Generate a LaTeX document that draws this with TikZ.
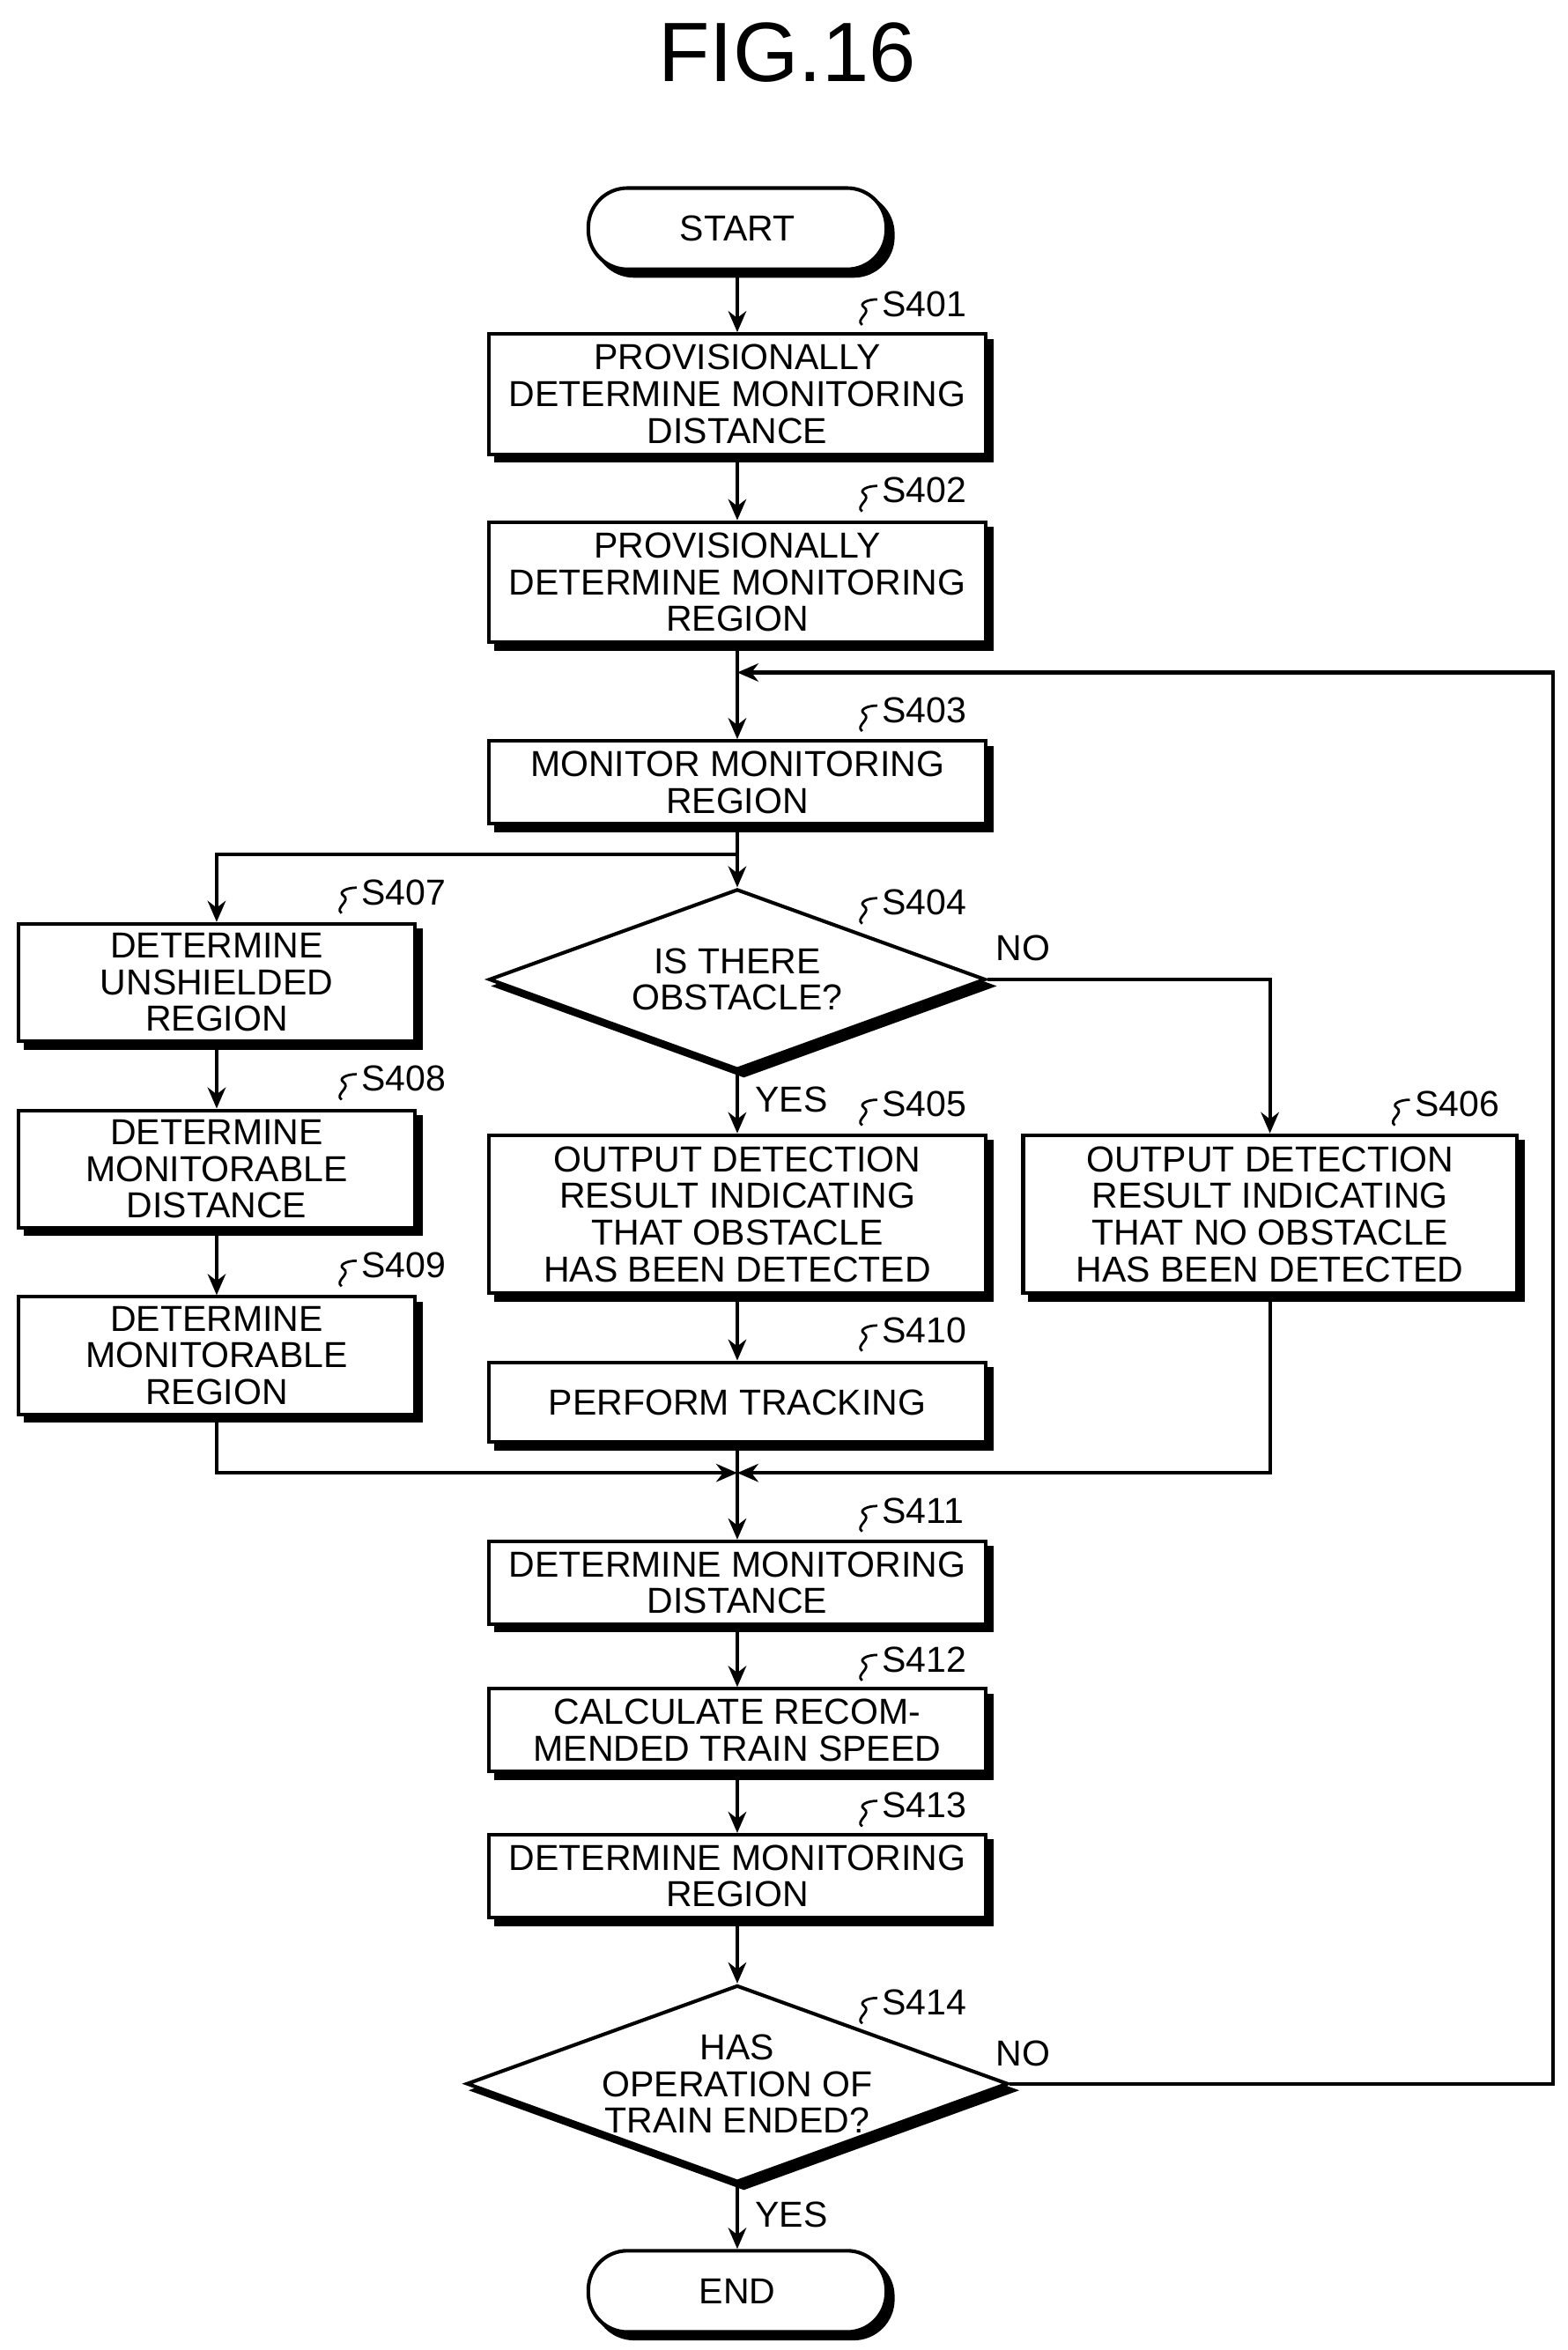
\documentclass[tikz,border=0pt]{standalone}
\usepackage{fontspec}
\setmainfont{Liberation Sans}
\usetikzlibrary{shapes.geometric,arrows.meta}
\begin{document}
\begin{tikzpicture}[x=0.5pt,y=-0.5pt,
  sh/.style={preaction={draw=black,fill=black,line width=1.2pt,transform canvas={shift={(2.2pt,-2.2pt)}}}},
  box/.style={draw,fill=white,line width=1.2pt,sh,align=center,inner sep=0pt,font=\fontsize{12}{12.2}\selectfont},
  term/.style={box,rounded corners=13pt,minimum width=99pt,minimum height=27pt},
  dia/.style={draw,fill=white,line width=1.2pt,sh,diamond,aspect=2.75,inner sep=0pt,align=center,font=\fontsize{12}{12.2}\selectfont},
  ln/.style={line width=1.2pt},
  ar/.style={ln,-{Stealth[length=7pt,width=6pt]}},
  lab/.style={font=\fontsize{12}{12}\selectfont,anchor=west}]
\useasboundingbox (0,0) rectangle (1042,1562);
\node[font=\fontsize{28}{28}\selectfont] (title) at (523,35) {FIG.16};
\node[term] (start) at (490,152) {START};
\node[box,minimum width=165pt,minimum height=40pt] (s401) at (490,262) {PROVISIONALLY\\DETERMINE MONITORING\\DISTANCE};
\node[box,minimum width=165pt,minimum height=40pt] (s402) at (490,387) {PROVISIONALLY\\DETERMINE MONITORING\\REGION};
\node[box,minimum width=165pt,minimum height=27.5pt] (s403) at (490,520) {MONITOR MONITORING\\REGION};
\node[dia,minimum width=165pt,minimum height=60pt] (s404) at (490,651) {IS THERE\\OBSTACLE?};
\node[box,minimum width=131.5pt,minimum height=39pt] (s407) at (144,653) {DETERMINE\\UNSHIELDED\\REGION};
\node[box,minimum width=131.5pt,minimum height=39pt] (s408) at (144,777) {DETERMINE\\MONITORABLE\\DISTANCE};
\node[box,minimum width=131.5pt,minimum height=39pt] (s409) at (144,901) {DETERMINE\\MONITORABLE\\REGION};
\node[box,minimum width=165pt,minimum height=52.5pt] (s405) at (490,807) {OUTPUT DETECTION\\RESULT INDICATING\\THAT OBSTACLE\\HAS BEEN DETECTED};
\node[box,minimum width=164pt,minimum height=52.5pt] (s406) at (844,807) {OUTPUT DETECTION\\RESULT INDICATING\\THAT NO OBSTACLE\\HAS BEEN DETECTED};
\node[box,minimum width=165pt,minimum height=26.5pt] (s410) at (490,932) {PERFORM TRACKING};
\coordinate (j) at (490,979);
\node[box,minimum width=165pt,minimum height=27.5pt] (s411) at (490,1052) {DETERMINE MONITORING\\DISTANCE};
\node[box,minimum width=165pt,minimum height=27.5pt] (s412) at (490,1150) {CALCULATE RECOM-\\MENDED TRAIN SPEED};
\node[box,minimum width=165pt,minimum height=27.5pt] (s413) at (490,1247) {DETERMINE MONITORING\\REGION};
\node[dia,minimum width=165pt,minimum height=65pt] (s414) at (490,1385) {HAS\\OPERATION OF\\TRAIN ENDED?};
\node[term] (end) at (490,1523) {END};
% connectors
\draw[ar] (start) -- (s401);
\draw[ar] (s401) -- (s402);
\draw[ar] (s402) -- (s403);
\draw[ar] (s403) -- (s404);
\coordinate (b1) at (490,568);
\draw[ar] (b1) -| (s407);
\draw[ar] (s407) -- (s408);
\draw[ar] (s408) -- (s409);
\draw[ar] (s404) -- (s405);
\draw[ar] (s404.east) -| (s406);
\draw[ar] (s405) -- (s410);
\draw[ar] (s410) -- (s411);
\draw[ar] (s409.south) |- (j);
\draw[ar] (s406.south) |- (j);
\draw[ar] (s411) -- (s412);
\draw[ar] (s412) -- (s413);
\draw[ar] (s413) -- (s414);
\draw[ar] (s414) -- (end);
\coordinate (lp) at (490,447);
\draw[ar] (s414.east) -| (1032,447) -- (lp);
% labels
\node[lab] at (655,630) {NO};
\node[lab] at (655,1365) {NO};
\node[lab] at (495,731) {YES};
\node[lab] at (495,1472) {YES};
\foreach \x/\y/\t in {490/202/S401,490/326/S402,490/472/S403,490/600/S404,490/734/S405,844/734/S406,144/593/S407,144/717/S408,144/841/S409,490/884/S410,490/1004/S411,490/1103/S412,490/1200/S413,490/1331/S414}{
  \draw[line width=0.8pt] (\x+83,\y+14) .. controls (\x+78,\y+10) and (\x+90,\y+6) .. (\x+84,\y+2) .. controls (\x+81,\y) and (\x+86,\y-3) .. (\x+93,\y-3);
  \node[lab,inner sep=0pt] at (\x+96,\y) {\t};
}
\end{tikzpicture}
\end{document}
